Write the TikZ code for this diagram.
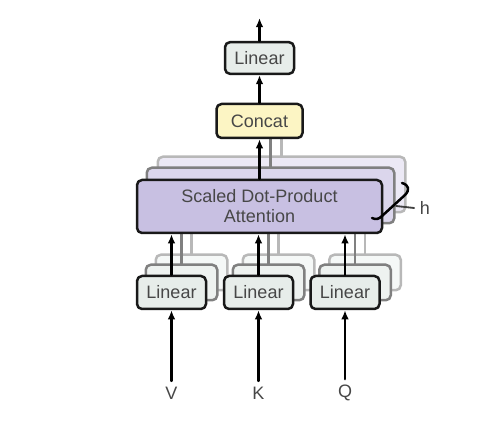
\documentclass[tikz,border=0pt]{standalone}
\usepackage{fontspec}
\setmainfont{Liberation Sans}
\usepackage{tikz}
\usetikzlibrary{arrows.meta,backgrounds}

\definecolor{linfill}{RGB}{231,237,234}
\definecolor{catfill}{RGB}{252,245,196}
\definecolor{attfill}{RGB}{200,192,226}

\begin{document}
\begin{tikzpicture}[
				x=0.6pt,
				y=-0.6pt,
				line cap=round,
				line join=round,
				every node/.style={font=\fontsize{10.8}{13}\selectfont,text=black!72},
				box/.style={draw=black!90,line width=1.5pt,rounded corners=3pt,inner sep=0pt,align=center},
				linbox/.style={box,fill=linfill,minimum width=41.4pt,minimum height=19pt},
				catbox/.style={box,fill=catfill,minimum width=51.6pt,minimum height=20.4pt},
				attbox/.style={box,fill=attfill,minimum width=147pt,minimum height=31.8pt},
				ghost/.style={line width=1.5pt,rounded corners=3pt},
				arr/.style={-{Latex[length=5.5pt,width=4.6pt]},line width=1.5pt}
				]
				\useasboundingbox (0,0) rectangle (488,424);
				
				\node[linbox] (linout) at (259.5,58) {Linear};
				\node[catbox] (concat) at (259.5,121) {Concat};
				\node[attbox] (sdpa) at (259.5,206.5) {Scaled Dot-Product\\[-1pt]Attention};
				\coordinate (out) at (259.5,18);
				
				\foreach \n/\x in {V/171.5,K/258.5,Q/345}
				{
					\node[linbox,minimum height=19.8pt] (lin\n) at (\x,292.5) {Linear};
					\node (in\n) at (\x,393) {\n};
					\draw[arr] (in\n.north) -- (lin\n.south);
					\draw[arr] (lin\n.north) -- (lin\n.north |- sdpa.south);
				}
				
				\draw[arr] (sdpa.north) -- (concat.south);
				\draw[arr] (concat.north) -- (linout.south);
				\draw[arr] (linout.north) -- (out);
				
				% stacked heads behind the front boxes
				\begin{scope}[on background layer]
					\foreach \d/\c/\f in {22/black!28/attfill!35,11/black!50/attfill!65}
					{
						\draw[ghost,draw=\c,fill=\f] ([shift={(\d,-\d)}]sdpa.south west) rectangle ([shift={(\d,-\d)}]sdpa.north east);
						\draw[arr,\c] ([shift={(\d,-\d)}]sdpa.north) -- ([shift={(\d,-\d)}]sdpa.north |- concat.south);
					}
					\foreach \n in {V,K,Q}
					\foreach \d/\c/\f in {20/black!28/linfill!40,10/black!50/linfill!70}
					{
						\draw[ghost,draw=\c,fill=\f] ([shift={(\d,-\d)}]lin\n.south west) rectangle ([shift={(\d,-\d)}]lin\n.north east);
						\draw[line width=1.3pt,\c] ([shift={(\d,-\d)}]lin\n.north) -- ([shift={(\d,-\d)}]lin\n.north |- sdpa.south);
					}
				\end{scope}
				
				% brace for the h heads
				\draw[line width=1.5pt]
				(402,183) .. controls (409,185) and (410,190) .. (405,195)
				-- (382,216) .. controls (379,219) and (376,220) .. (372,218);
				\node (h) at (425,208) {h};
				\coordinate (htip) at (396,206);
				\draw[line width=1.1pt,black!75] (htip) -- (h.west);
			\end{tikzpicture}
\end{document}
